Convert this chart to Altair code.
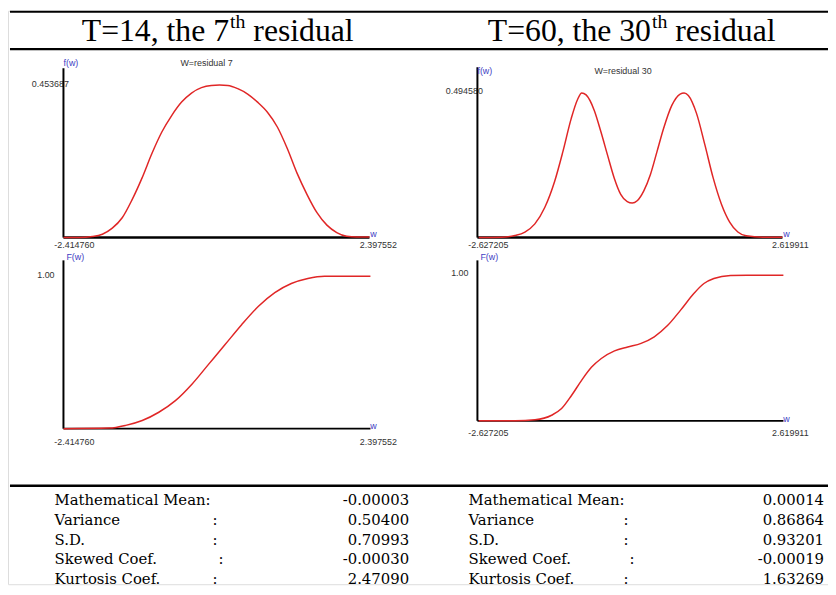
import altair as alt
import pandas as pd

# ---------------- data ----------------
title_left = ["T=14, the 7", "th", "residual"]
title_right = ["T=60, the 30", "th", "residual"]
subtitle_left = "W=residual 7"
subtitle_right = "W=residual 30"

# T=14, residual 7 : density f(w)
pdf7_w = [-2.414, -2.166, -1.958, -1.803, -1.647, -1.491, -1.335, -1.180, -1.024, -0.868,
          -0.713, -0.557, -0.401, -0.245, -0.090, 0.040, 0.170, 0.326, 0.482, 0.637, 0.793,
          0.949, 1.105, 1.260, 1.416, 1.572, 1.728, 1.883, 2.039, 2.195, 2.397]
pdf7_f = [0.0, 0.0, 0.003, 0.010, 0.028, 0.059, 0.113, 0.177, 0.250, 0.314,
          0.363, 0.403, 0.430, 0.446, 0.4525, 0.4537, 0.4525, 0.443, 0.427, 0.403, 0.373,
          0.329, 0.265, 0.191, 0.128, 0.074, 0.037, 0.015, 0.004, 0.002, 0.002]
# T=14 : distribution F(w)
cdf7_w = [-2.414, -1.698, -1.438, -1.180, -0.920, -0.660, -0.401, -0.141, 0.119, 0.378,
          0.638, 0.898, 1.157, 1.416, 1.677, 2.397]
cdf7_F = [0.0, 0.004, 0.022, 0.054, 0.108, 0.184, 0.292, 0.422, 0.552, 0.682,
          0.801, 0.892, 0.952, 0.985, 1.0, 1.0]

# T=60, residual 30 : density f(w)
pdf30_w = [-2.605, -2.207, -1.980, -1.810, -1.639, -1.469, -1.298, -1.157, -1.014, -0.901,
           -0.833, -0.758, -0.617, -0.503, -0.390, -0.276, -0.162, -0.050, 0.036, 0.121,
           0.235, 0.349, 0.462, 0.575, 0.717, 0.860, 0.928, 1.001, 1.143, 1.286,
           1.427, 1.569, 1.712, 1.853, 1.995, 2.279, 2.619]
pdf30_f = [0.0, 0.001, 0.007, 0.019, 0.047, 0.103, 0.193, 0.294, 0.407, 0.474,
           0.4946, 0.488, 0.435, 0.362, 0.283, 0.205, 0.148, 0.123, 0.118, 0.126,
           0.160, 0.216, 0.294, 0.373, 0.452, 0.491, 0.4946, 0.486, 0.424, 0.317,
           0.205, 0.115, 0.053, 0.019, 0.006, 0.001, 0.001]
# T=60 : distribution F(w)
cdf30_w = [-2.605, -1.980, -1.639, -1.355, -1.184, -1.014, -0.844, -0.673, -0.503, -0.276,
           -0.050, 0.179, 0.405, 0.632, 0.860, 1.087, 1.257, 1.427, 1.712, 1.995, 2.619]
cdf30_F = [0.0, 0.0, 0.007, 0.038, 0.084, 0.174, 0.276, 0.367, 0.428, 0.480,
           0.507, 0.532, 0.577, 0.654, 0.762, 0.876, 0.943, 0.977, 0.998, 1.0, 1.0]

range7 = [-2.414760, 2.397552]
range30 = [-2.627205, 2.619911]
fmax7 = 0.453687
fmax30 = 0.494580

stat_labels = ["Mathematical Mean:", "Variance", "S.D.", "Skewed Coef.", "Kurtosis Coef."]
stat_colons = ["", ":", ":", ":", ":"]
stats7 = [-0.00003, 0.50400, 0.70993, -0.00030, 2.47090]
stats30 = [0.00014, 0.86864, 0.93201, -0.00019, 1.63269]

# ---------------- styling / layout ----------------
W, H = 828, 579
RED = "#e02626"
BLUE = "#4040c4"
GREY = "#333333"
SANS = "Liberation Sans"
SERIF = "Liberation Serif"
STATFONT = "DejaVu Serif"
STATSIZE = 15

panels = [
    dict(w=pdf7_w, v=pdf7_f, xdom=range7, ydom=[0, fmax7], xr=[56, 365], yr=[229, 75],
         ytop=58, axw=2.5, lab_dy=8, lmin_dx=11, lmax_dx=9, ylab=f"{fmax7:.6f}", ylab_dx=-32,
         ylab_dy=-1, ylab_align="left", name="f(w)", name_dx=0, name_y=53, w_dx=4, w_dy=-4),
    dict(w=cdf7_w, v=cdf7_F, xdom=range7, ydom=[0, 1], xr=[56, 366], yr=[422, 268],
         ytop=252, axw=1.8, lab_dy=13, lmin_dx=11, lmax_dx=8, ylab="1.00", ylab_dx=-9,
         ylab_dy=-1, ylab_align="right", name="F(w)", name_dx=3, name_y=249, w_dx=3, w_dy=-3),
    dict(w=pdf30_w, v=pdf30_f, xdom=range30, ydom=[0, fmax30], xr=[474, 782], yr=[229, 83],
         ytop=57, axw=2.5, lab_dy=8, lmin_dx=11, lmax_dx=8, ylab=f"{fmax30:.6f}", ylab_dx=-32,
         ylab_dy=-2, ylab_align="left", name="f(w)", name_dx=0, name_y=61, w_dx=4, w_dy=-4),
    dict(w=cdf30_w, v=cdf30_F, xdom=range30, ydom=[0, 1], xr=[474, 783], yr=[414, 267],
         ytop=252, axw=1.8, lab_dy=12, lmin_dx=11, lmax_dx=7, ylab="1.00", ylab_dx=-9,
         ylab_dy=-2, ylab_align="right", name="F(w)", name_dx=3, name_y=249, w_dx=3, w_dy=-2),
]

one = pd.DataFrame({"k": [0]})
layers = []


def make_panel(p):
    def X(field):
        return alt.X(field, type="quantitative", axis=None,
                     scale=alt.Scale(domain=p["xdom"], range=p["xr"], zero=False, nice=False))

    def Y(field):
        return alt.Y(field, type="quantitative", axis=None,
                     scale=alt.Scale(domain=p["ydom"], range=p["yr"], zero=False, nice=False))

    out = []
    # max label (drawn under the axis, it is crossed by it in the reference)
    ylab_df = pd.DataFrame({"x": [p["xdom"][0]], "y": [p["ydom"][1]], "t": [p["ylab"]]})
    out.append(alt.Chart(ylab_df).mark_text(font=SANS, fontSize=9, color=GREY, align=p["ylab_align"],
                                            baseline="middle", dx=p["ylab_dx"], dy=p["ylab_dy"])
               .encode(x=X("x"), y=Y("y"), text="t:N"))
    # axes
    ax_df = pd.DataFrame({"x0": [p["xdom"][0]], "x1": [p["xdom"][1]], "y0": [0.0]})
    out.append(alt.Chart(ax_df).mark_rule(color="black", strokeWidth=p["axw"])
               .encode(x=X("x0"), x2="x1", y=Y("y0")))
    out.append(alt.Chart(ax_df).mark_rule(color="black", strokeWidth=2)
               .encode(x=X("x0"), y=Y("y0"), y2=alt.value(p["ytop"])))
    # curve
    cdf = pd.DataFrame({"w": p["w"], "v": p["v"]})
    out.append(alt.Chart(cdf).mark_line(color=RED, strokeWidth=1.5, interpolate="monotone")
               .encode(x=X("w"), y=Y("v")))
    # x end labels
    lo = pd.DataFrame({"x": [p["xdom"][0]], "y": [0.0], "t": [f"{p['xdom'][0]:.6f}"]})
    hi = pd.DataFrame({"x": [p["xdom"][1]], "y": [0.0], "t": [f"{p['xdom'][1]:.6f}"]})
    out.append(alt.Chart(lo).mark_text(font=SANS, fontSize=9, color=GREY, align="center",
                                       baseline="middle", dx=p["lmin_dx"], dy=p["lab_dy"])
               .encode(x=X("x"), y=Y("y"), text="t:N"))
    out.append(alt.Chart(hi).mark_text(font=SANS, fontSize=9, color=GREY, align="center",
                                       baseline="middle", dx=p["lmax_dx"], dy=p["lab_dy"])
               .encode(x=X("x"), y=Y("y"), text="t:N"))
    # axis names
    wdf = pd.DataFrame({"x": [p["xdom"][1]], "y": [0.0], "t": ["w"]})
    out.append(alt.Chart(wdf).mark_text(font=SANS, fontSize=9, color=BLUE, align="center",
                                        baseline="middle", dx=p["w_dx"], dy=p["w_dy"])
               .encode(x=X("x"), y=Y("y"), text="t:N"))
    ndf = pd.DataFrame({"x": [p["xdom"][0]], "t": [p["name"]]})
    out.append(alt.Chart(ndf).mark_text(font=SANS, fontSize=9, color=BLUE, align="left",
                                        baseline="middle", dx=p["name_dx"])
               .encode(x=X("x"), y=alt.value(p["name_y"]), text="t:N"))
    return out


for p in panels:
    layers.extend(make_panel(p))

# subtitles inside the density plots
for txt, xx, yy in [(subtitle_left, 200.5, 53), (subtitle_right, 621, 61)]:
    layers.append(alt.Chart(pd.DataFrame({"t": [txt]})).mark_text(
        font=SANS, fontSize=9, color=GREY, align="center", baseline="middle")
        .encode(x=alt.value(xx), y=alt.value(yy), text="t:N"))

# table rules
for yy, sw in [(1, 2), (38.7, 2.5), (479.5, 2.5)]:
    layers.append(alt.Chart(one).mark_rule(color="black", strokeWidth=sw)
                  .encode(x=alt.value(2), x2=alt.value(W), y=alt.value(yy)))

# column titles with superscript
adv = {"T": .611, "=": .564, "1": .5, "4": .5, "6": .5, "0": .5, "3": .5, "7": .5, ",": .25,
       " ": .25, "t": .278, "h": .5, "e": .444}


def twidth(s, size):
    return sum(adv.get(c, .5) for c in s) * size


MAIN, SUP = 32, 20
for parts, x0 in [(title_left, 74.5), (title_right, 484.5)]:
    w1 = twidth(parts[0], MAIN)
    w2 = twidth(parts[1], SUP)
    for txt, xx, yy, fs in [(parts[0], x0, 30, MAIN), (parts[1], x0 + w1 + 1, 17, SUP),
                            (parts[2], x0 + w1 + 1 + w2 + twidth(" ", MAIN), 30, MAIN)]:
        layers.append(alt.Chart(pd.DataFrame({"t": [txt]})).mark_text(
            font=SERIF, fontSize=fs, color="black", align="left", baseline="alphabetic")
            .encode(x=alt.value(xx), y=alt.value(yy), text="t:N"))

# statistics table
sdf = pd.DataFrame({"row": list(range(len(stat_labels))), "label": stat_labels,
                    "colon": stat_colons,
                    "v7": [f"{v:.5f}" for v in stats7], "v30": [f"{v:.5f}" for v in stats30]})
ROWY = alt.Y("row:O", axis=None,
             scale=alt.Scale(type="point", domain=list(range(len(stat_labels))), range=[494, 574], padding=0))
for col, lx, cx, vx in [("v7", 47, 209, 405), ("v30", 465, 624, 824)]:
    layers.append(alt.Chart(sdf).mark_text(font=STATFONT, fontSize=STATSIZE, color="black", align="left",
                                           baseline="middle")
                  .encode(x=alt.value(lx), y=ROWY, text="label:N"))
    layers.append(alt.Chart(sdf).mark_text(font=STATFONT, fontSize=STATSIZE, color="black", align="right",
                                           baseline="middle")
                  .encode(x=alt.value(vx), y=ROWY, text=f"{col}:N"))
    layers.append(alt.Chart(sdf).transform_filter("datum.row != 3").mark_text(
        font=STATFONT, fontSize=STATSIZE, color="black", align="center", baseline="middle")
        .encode(x=alt.value(cx), y=ROWY, text="colon:N"))
    layers.append(alt.Chart(sdf).transform_filter("datum.row == 3").mark_text(
        font=STATFONT, fontSize=STATSIZE, color="black", align="center", baseline="middle")
        .encode(x=alt.value(cx + 6), y=ROWY, text="colon:N"))

chart = (alt.layer(*layers)
         .resolve_scale(x="independent", y="independent")
         .properties(width=W, height=H, padding=0, autosize=alt.AutoSizeParams(type="none"))
         .configure_view(stroke=None)
         .configure(background="white"))

chart.save("out.html", embed_options={"renderer": "svg", "actions": False})
